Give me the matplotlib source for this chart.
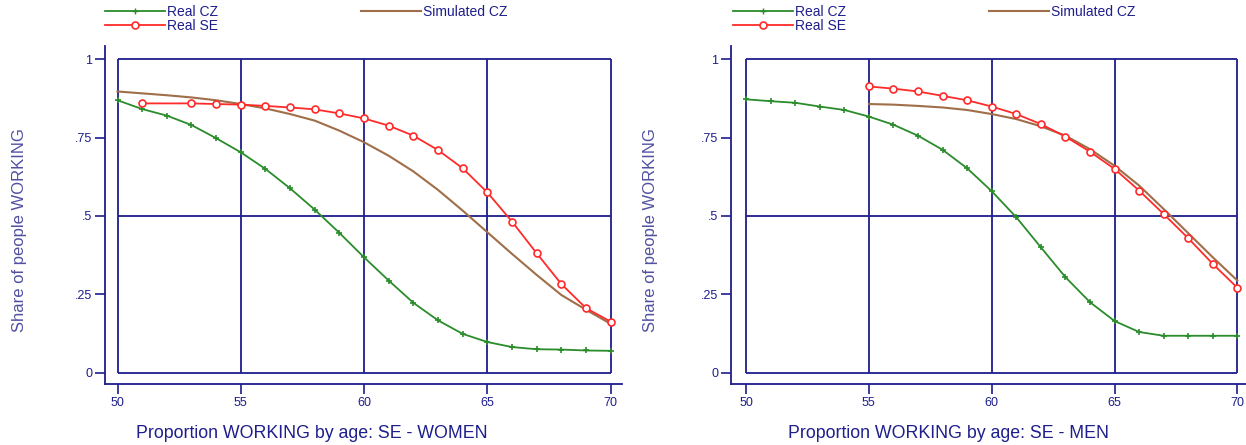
import matplotlib
matplotlib.use('Agg')
import matplotlib.pyplot as plt
from matplotlib.lines import Line2D

plt.rcParams['font.family'] = ['Liberation Sans', 'DejaVu Sans']

# ---- data ----
ages = list(range(50, 71))

# women
cz_women = [0.869, 0.841, 0.820, 0.790, 0.748, 0.703, 0.650, 0.588, 0.520, 0.446,
            0.368, 0.294, 0.223, 0.167, 0.124, 0.098, 0.082, 0.075, 0.074, 0.071, 0.070]
se_women_ages = [51] + list(range(53, 71))
se_women = [0.859, 0.859, 0.857, 0.855, 0.851, 0.846, 0.840, 0.827, 0.811, 0.788,
            0.756, 0.710, 0.652, 0.575, 0.482, 0.381, 0.283, 0.206, 0.163]
sim_women = [0.897, 0.891, 0.885, 0.878, 0.869, 0.857, 0.843, 0.825, 0.804, 0.772,
             0.735, 0.692, 0.642, 0.583, 0.517, 0.448, 0.379, 0.312, 0.248, 0.201, 0.156]

# men
cz_men = [0.872, 0.866, 0.861, 0.849, 0.838, 0.817, 0.791, 0.756, 0.711, 0.652,
          0.579, 0.496, 0.400, 0.305, 0.225, 0.165, 0.130, 0.118, 0.118, 0.118, 0.118]
se_men_ages = list(range(55, 71))
se_men = [0.913, 0.906, 0.897, 0.883, 0.869, 0.849, 0.825, 0.793, 0.753, 0.705,
          0.650, 0.581, 0.506, 0.429, 0.347, 0.271]
sim_men_ages = list(range(55, 71))
sim_men = [0.857, 0.855, 0.851, 0.846, 0.838, 0.825, 0.809, 0.786, 0.756, 0.713,
           0.660, 0.597, 0.522, 0.445, 0.368, 0.294]

x_ticks = [50, 55, 60, 65, 70]
y_ticks = [0, 0.25, 0.5, 0.75, 1]
y_ticklabels = ['0', '.25', '.5', '.75', '1']
grid_y = [0, 0.5, 1]

navy = '#1e1e8c'
green = '#2a8c2a'
red = '#ff2a2a'
brown = '#a06e48'

fig = plt.figure(figsize=(12.46, 4.45), dpi=100)
ax_w = fig.add_axes([0.0843, 0.1364, 0.4149, 0.7602])
ax_m = fig.add_axes([0.5867, 0.1364, 0.4133, 0.7602])


def style_panel(ax, xlim, title, title_x, ylab_x):
    ax.set_xlim(*xlim)
    ax.set_ylim(-0.0368, 1.042)
    # plot region box and grid
    ax.vlines(x_ticks, 0, 1, color=navy, lw=1.3, zorder=1)
    ax.hlines(grid_y, 50, 70, color=navy, lw=1.3, zorder=1)
    for s in ['top', 'right']:
        ax.spines[s].set_visible(False)
    for s in ['left', 'bottom']:
        ax.spines[s].set_color(navy)
        ax.spines[s].set_linewidth(1.3)
    ax.set_xticks(x_ticks)
    ax.set_yticks(y_ticks)
    ax.set_yticklabels(y_ticklabels)
    ax.tick_params(axis='both', colors=navy, labelcolor=navy, labelsize=9,
                   length=7, width=1.2, pad=2)
    ax.set_ylabel('Share of people WORKING', fontsize=12, color='#5050a0')
    ax.yaxis.set_label_coords(ylab_x, 0.456)
    fig.text(title_x, 0.0157, title, fontsize=12.8, color=navy,
             ha='center', va='baseline')


def draw_legend(ax, anchor_x):
    handles = [
        Line2D([], [], color=green, lw=1.3, marker='+', markersize=5, markevery=[1]),
        Line2D([], [], color=red, lw=1.3, marker='o', markersize=5,
               markerfacecolor='white', markeredgewidth=1.2, markevery=[1]),
        Line2D([], [], color=brown, lw=1.5),
    ]
    labels = ['Real CZ', 'Real SE', 'Simulated CZ']
    leg = ax.legend(handles, labels, ncol=2, loc='upper left',
                    bbox_to_anchor=(anchor_x, 0.988), bbox_transform=fig.transFigure,
                    frameon=False, fontsize=10, handlelength=4.3,
                    handletextpad=0.15, columnspacing=10.3, labelspacing=0.0,
                    borderpad=0, borderaxespad=0)
    for t in leg.get_texts():
        t.set_color(navy)


# women
ax_w.plot(ages, sim_women, color=brown, lw=1.5, zorder=3)
ax_w.plot(ages, cz_women, color=green, lw=1.3, marker='+', markersize=5,
          markeredgewidth=1.2, zorder=4)
ax_w.plot(se_women_ages, se_women, color=red, lw=1.3, marker='o', markersize=5,
          markerfacecolor='white', markeredgewidth=1.2, zorder=5)
style_panel(ax_w, (49.494, 70.46), 'Proportion WORKING by age: SE - WOMEN',
            312 / 1246, -0.15)
draw_legend(ax_w, 105 / 1246)

# men
ax_m.plot(sim_men_ages, sim_men, color=brown, lw=1.5, zorder=3)
ax_m.plot(ages, cz_men, color=green, lw=1.3, marker='+', markersize=5,
          markeredgewidth=1.2, zorder=4)
ax_m.plot(se_men_ages, se_men, color=red, lw=1.3, marker='o', markersize=5,
          markerfacecolor='white', markeredgewidth=1.2, zorder=5)
style_panel(ax_m, (49.389, 70.35), 'Proportion WORKING by age: SE - MEN',
            948 / 1246, -0.142)
draw_legend(ax_m, 733 / 1246)

fig.savefig('out.png', dpi=100)
